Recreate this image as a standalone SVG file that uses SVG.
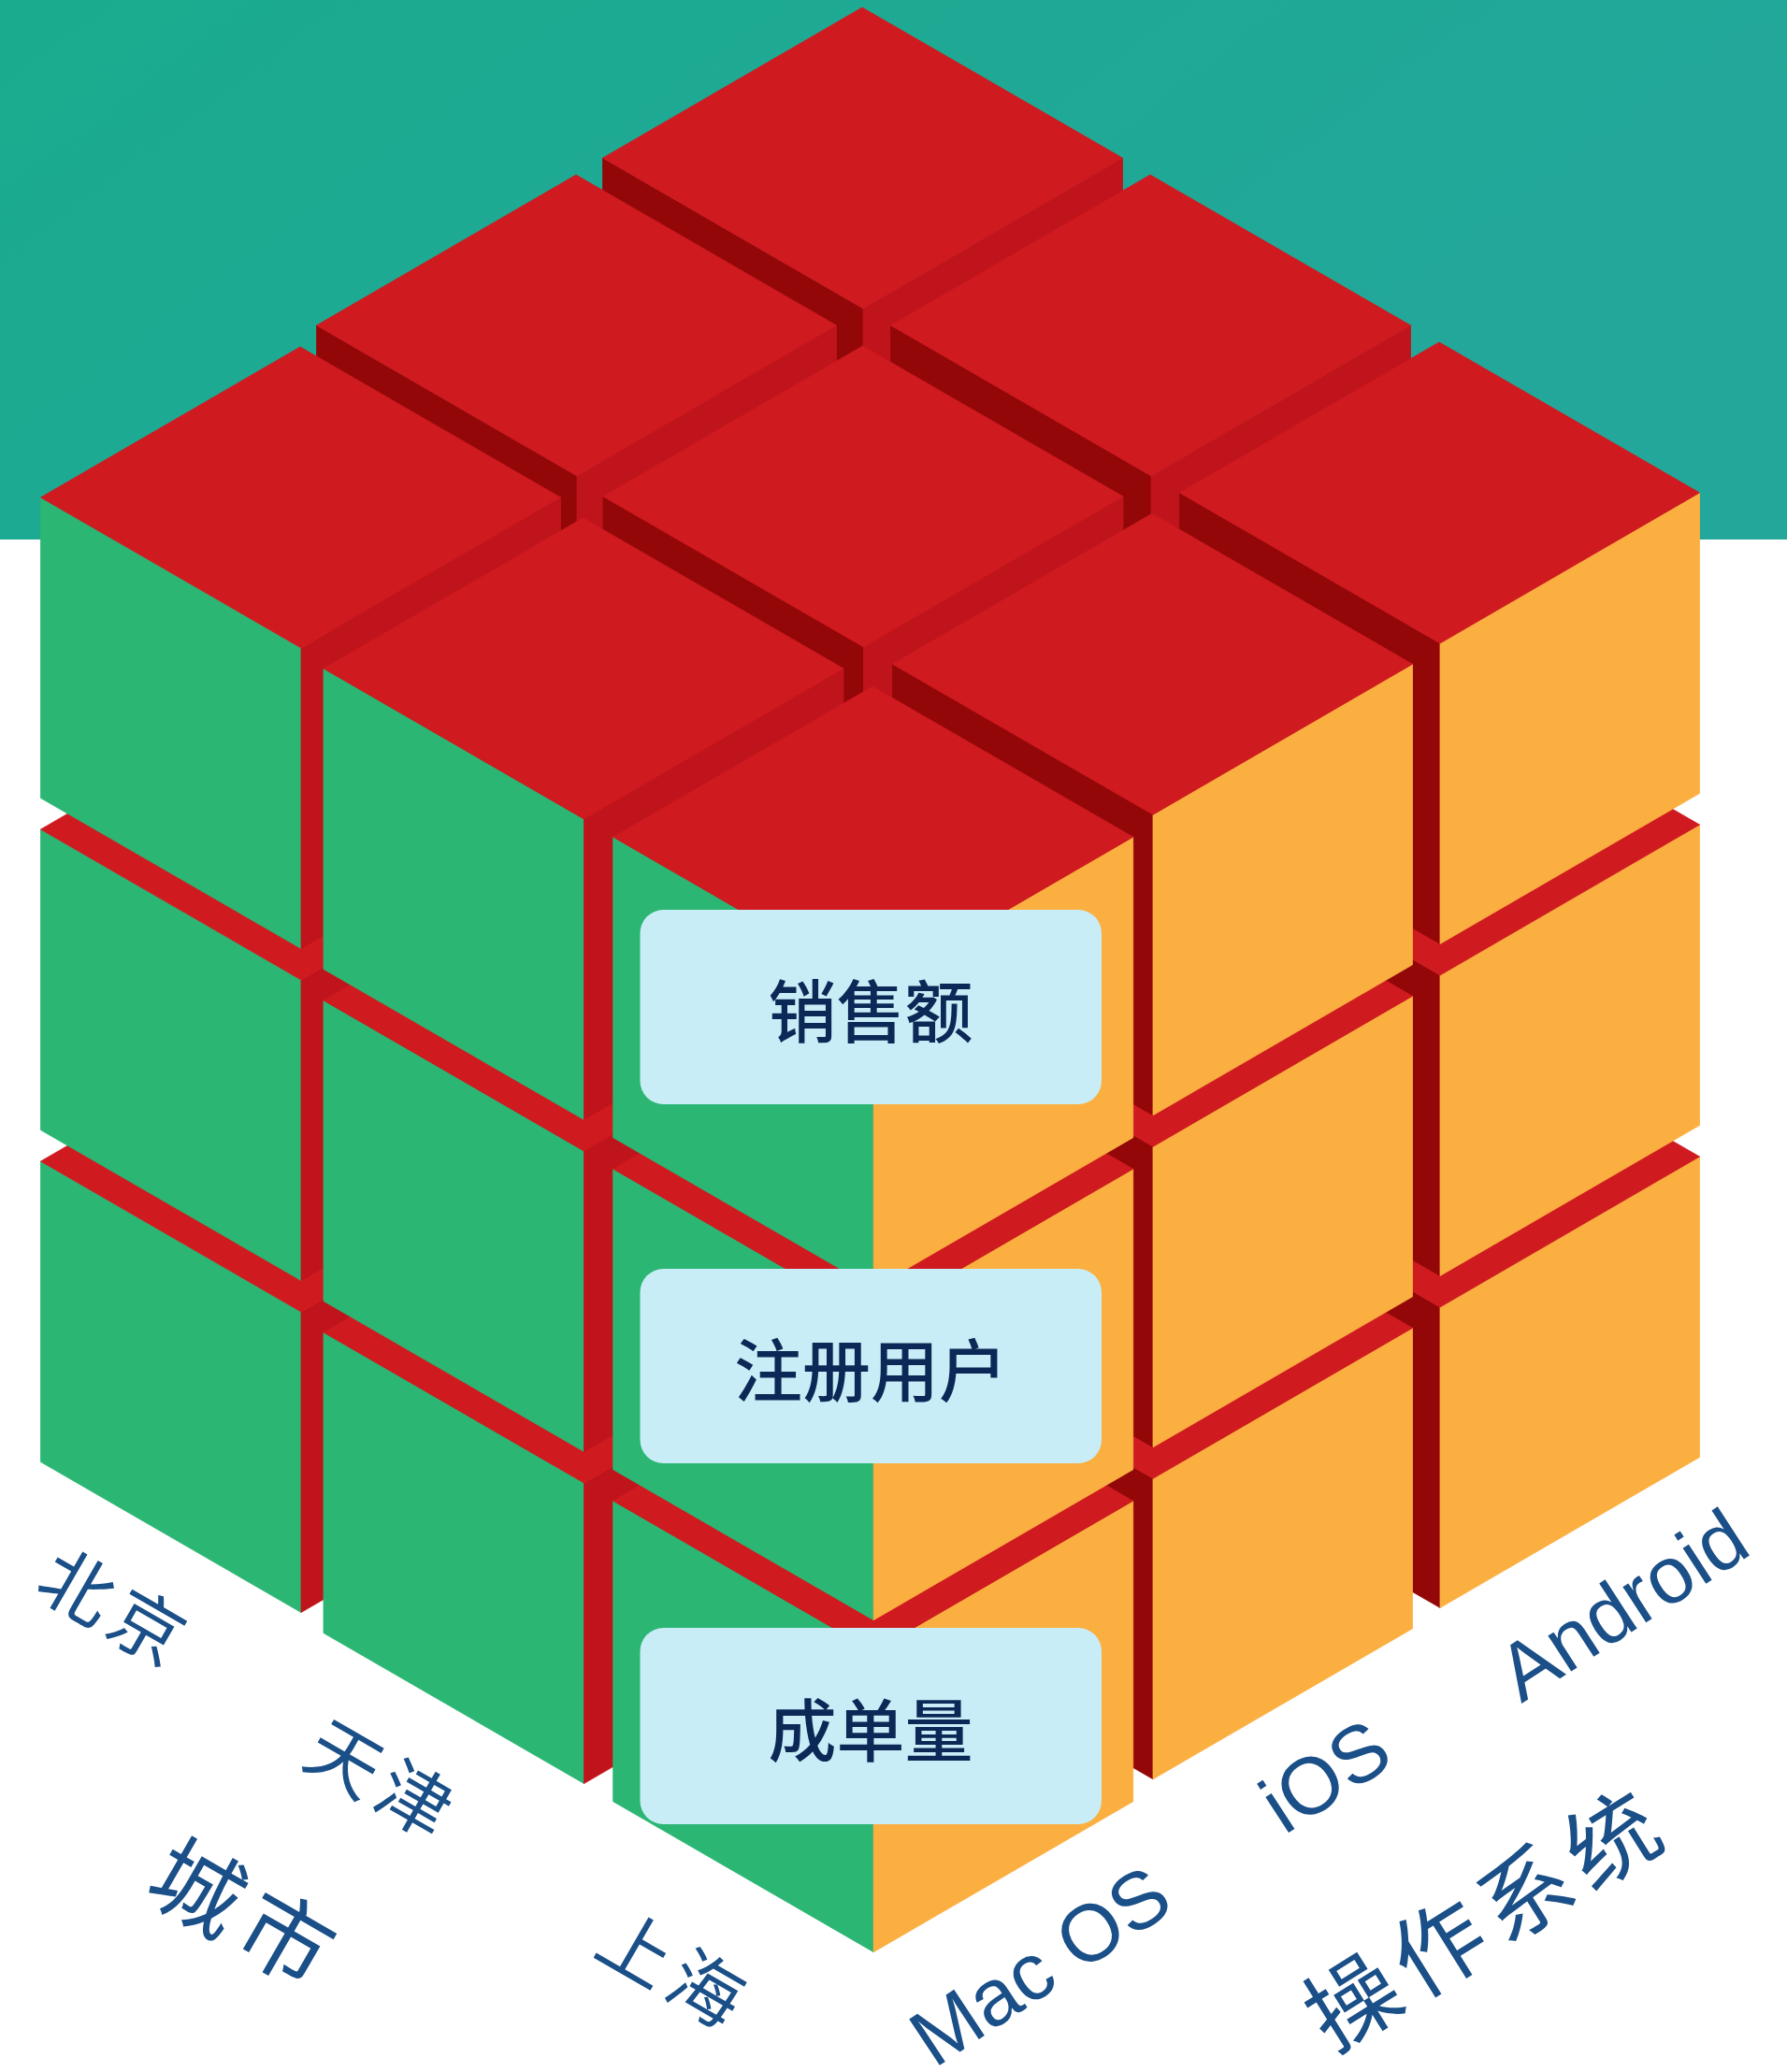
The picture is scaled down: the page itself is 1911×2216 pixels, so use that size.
<svg xmlns="http://www.w3.org/2000/svg" xmlns:xlink="http://www.w3.org/1999/xlink" width="1911" height="2216" viewBox="0 0 1911 2216">
  <style>
    .top { fill: #CF1A20; stroke: #CF1A20; }
    .dk { fill: #930709; stroke: #930709; }
    .md { fill: #C0141C; stroke: #C0141C; }
    .gr { fill: #2BB673; stroke: #2BB673; }
    .or { fill: #FBAF41; stroke: #FBAF41; }
    .top, .dk, .md, .gr, .or { stroke-width: 0.8; stroke-linejoin: round; }
    .box { fill: #C8EDF6; }
    .boxtxt { font-family: "Noto Sans CJK SC", "Noto Sans", sans-serif; font-size: 73px; font-weight: 500; fill: #0C2856; text-anchor: middle; dominant-baseline: central; }
    .axcn { font-family: "Noto Sans CJK SC", sans-serif; font-size: 78px; letter-spacing: 8px; fill: #1A4F88; text-anchor: middle; dominant-baseline: central; }
    .axen { font-family: "Liberation Sans", Arial, sans-serif; font-size: 86px; fill: #1A4F88; text-anchor: middle; dominant-baseline: central; }
    .ttl { font-family: "Noto Sans CJK SC", sans-serif; font-size: 98px; letter-spacing: 11px; fill: #1A4F88; text-anchor: middle; dominant-baseline: central; }
  </style>
  <defs>
    <linearGradient id="teal" x1="0" y1="0" x2="1" y2="0.4">
      <stop offset="0" stop-color="#1AAB8E"/>
      <stop offset="1" stop-color="#23A79B"/>
    </linearGradient>
    <path id="fTop" d="M0,0 L-277.5,161 L1,322 L278.5,161 Z"/>
    <path id="fLeft" d="M-277.5,161 L1,322 L1,643.5 L-277.5,482.5 Z"/>
    <path id="fRight" d="M278.5,161 L1,322 L1,643.5 L278.5,482.5 Z"/>
    <g id="cI"><use href="#fLeft" class="dk"/><use href="#fRight" class="md"/><use href="#fTop" class="top"/></g>
    <g id="cL"><use href="#fLeft" class="gr"/><use href="#fRight" class="md"/><use href="#fTop" class="top"/></g>
    <g id="cR"><use href="#fLeft" class="dk"/><use href="#fRight" class="or"/><use href="#fTop" class="top"/></g>
    <g id="cF"><use href="#fLeft" class="gr"/><use href="#fRight" class="or"/><use href="#fTop" class="top"/></g>
  </defs>

  <rect id="background" x="0" y="0" width="1911" height="2216" fill="#FFFFFF"/>
  <rect id="teal-band" x="0" y="0" width="1911" height="577" fill="url(#teal)"/>

  <g id="cube">
    <use href="#cI" transform="translate(922,718)"/>
    <use href="#cI" transform="translate(616,897)"/>
    <use href="#cI" transform="translate(1230,897)"/>
    <use href="#cI" transform="translate(922,363)"/>
    <use href="#cL" transform="translate(321,1081)"/>
    <use href="#cI" transform="translate(922.5,1080)"/>
    <use href="#cR" transform="translate(1539,1076)"/>
    <use href="#cI" transform="translate(616,542)"/>
    <use href="#cI" transform="translate(1230,542)"/>
    <use href="#cI" transform="translate(922,8)"/>
    <use href="#cL" transform="translate(623.5,1264)"/>
    <use href="#cR" transform="translate(1232,1259.3)"/>
    <use href="#cL" transform="translate(321,726)"/>
    <use href="#cI" transform="translate(922.5,725)"/>
    <use href="#cR" transform="translate(1539,721)"/>
    <use href="#cI" transform="translate(616,187)"/>
    <use href="#cI" transform="translate(1230,187)"/>
    <use href="#cF" transform="translate(933.2,1444.2)"/>
    <use href="#cL" transform="translate(623.5,909)"/>
    <use href="#cR" transform="translate(1232,904.3)"/>
    <use href="#cL" transform="translate(321,371)"/>
    <use href="#cI" transform="translate(922.5,370)"/>
    <use href="#cR" transform="translate(1539,366)"/>
    <use href="#cF" transform="translate(933.2,1089.2)"/>
    <use href="#cL" transform="translate(623.5,554)"/>
    <use href="#cR" transform="translate(1232,549.3)"/>
    <use href="#cF" transform="translate(933.2,734.2)"/>
  </g>

  <g id="node-sales">
    <rect class="box" x="684.5" y="973" width="493.5" height="208" rx="25" ry="25"/>
    <text class="boxtxt" x="931" y="1077">销售额</text>
  </g>
  <g id="node-users">
    <rect class="box" x="684.5" y="1357" width="493.5" height="208" rx="25" ry="25"/>
    <text class="boxtxt" x="931" y="1461">注册用户</text>
  </g>
  <g id="node-orders">
    <rect class="box" x="684.5" y="1741" width="493.5" height="210" rx="25" ry="25"/>
    <text class="boxtxt" x="931" y="1846">成单量</text>
  </g>

  <g id="axis-city">
    <text class="axcn" transform="translate(126,1716) rotate(30)">北京</text>
    <text class="axcn" transform="translate(412,1900) rotate(30)">天津</text>
    <text class="axcn" transform="translate(724,2103) rotate(30)">上海</text>
    <text class="ttl" transform="translate(267,2043) rotate(30)">城市</text>
  </g>
  <g id="axis-os">
    <text class="axen" transform="translate(1112,2102) rotate(-33.5)">Mac OS</text>
    <text class="axen" transform="translate(1417,1899) rotate(-33)">iOS</text>
    <text class="axen" transform="translate(1735,1716) rotate(-33)">Android</text>
    <text class="ttl" transform="translate(1586,2045) rotate(-32)">操作系统</text>
  </g>
</svg>
